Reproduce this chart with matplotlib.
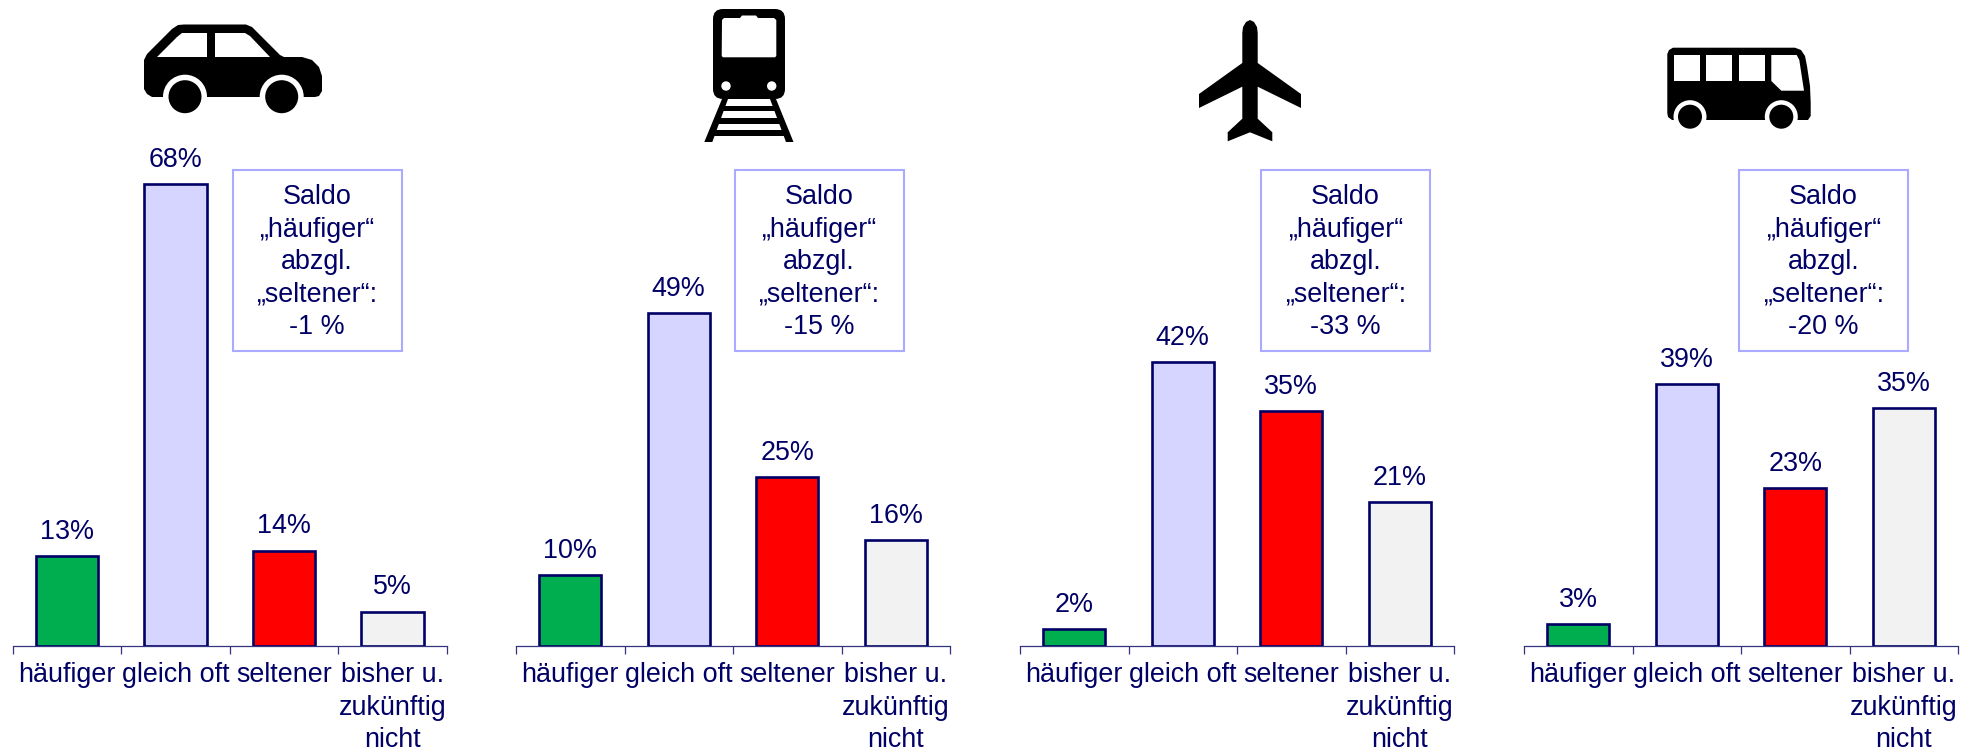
import matplotlib
matplotlib.use('Agg')
import matplotlib.pyplot as plt
from matplotlib.patches import Circle, FancyBboxPatch, Polygon, Rectangle

plt.rcParams['font.family'] = ['Liberation Sans', 'DejaVu Sans']

# ── DATA ──────────────────────────────────────────
# bar heights, the printed labels are these rounded
categories = ['häufiger', 'gleich oft', 'seltener', 'bisher u.\nzukünftig\nnicht']
car_values = [13.2, 68, 14, 5]
train_values = [10.4, 49, 24.8, 15.6]
plane_values = [2.4, 41.8, 34.6, 21.2]
bus_values = [3.2, 38.6, 23.2, 35]
saldo_values = [-1, -15, -33, -20]

panel_values = [car_values, train_values, plane_values, bus_values]
panel_left = [12.6, 516, 1020, 1524]
box_left = [232.5, 734.5, 1261, 1739]

NAVY = '#000066'
bar_colors = ['#00AD4F', '#D5D5FF', '#FF0000', '#F2F2F2']
FS = 19.4

W, H = 1975, 750
BASE_Y = 645.5
PX_PER_PCT = 6.78
AX_W = 434
Y_MAX = 70

fig = plt.figure(figsize=(W / 100, H / 100), dpi=100, facecolor='white')

# ── BAR PANELS ────────────────────────────────────
for left, values in zip(panel_left, panel_values):
    ax_h = Y_MAX * PX_PER_PCT
    ax = fig.add_axes([left / W, (H - BASE_Y) / H, AX_W / W, ax_h / H])
    ax.patch.set_alpha(0)
    bars = ax.bar([0.5, 1.5, 2.5, 3.5], values, width=0.576, color=bar_colors,
                  edgecolor=NAVY, linewidth=1.9)
    ax.bar_label(bars, labels=[f'{v:.0f}%' for v in values], padding=8,
                 fontsize=FS, color=NAVY)
    ax.set_xlim(0, 4)
    ax.set_ylim(0, Y_MAX)
    ax.set_yticks([])
    for side in ['left', 'right', 'top']:
        ax.spines[side].set_visible(False)
    ax.spines['bottom'].set_color('#333380')
    ax.spines['bottom'].set_linewidth(0.9)
    ax.set_xticks([0, 1, 2, 3, 4])
    ax.set_xticklabels([])
    ax.tick_params(axis='x', which='major', length=5.5, width=0.9, color='#333380')
    ax.set_xticks([0.5, 1.5, 2.5, 3.5], minor=True)
    ax.set_xticklabels(categories, minor=True, fontsize=FS, color=NAVY, linespacing=1.32)
    ax.tick_params(axis='x', which='minor', length=0, pad=12)

# ── OVERLAY IN PIXELS: SALDO BOXES AND ICONS ──────
ov = fig.add_axes([0, 0, 1, 1], zorder=5)
ov.set_xlim(0, W)
ov.set_ylim(H, 0)
ov.axis('off')

for left, saldo in zip(box_left, saldo_values):
    ov.add_patch(Rectangle((left, 170), 169, 181, facecolor='white',
                           edgecolor='#AAAAFF', linewidth=1.5))
    ov.text(left + 84.5, 262, f'Saldo\n„häufiger“\nabzgl.\n„seltener“:\n{saldo} %',
            ha='center', va='center', fontsize=FS, color=NAVY, linespacing=1.32)

BLACK = 'black'


def poly(pts, color=BLACK):
    ov.add_patch(Polygon(pts, closed=True, facecolor=color, edgecolor='none'))


def wheel(x, y, r_black, r_white):
    ov.add_patch(Circle((x, y), r_white, facecolor='white', edgecolor='none'))
    ov.add_patch(Circle((x, y), r_black, facecolor=BLACK, edgecolor='none'))


# car
poly([(144, 60), (147, 54), (172, 29), (178, 25), (184, 24.5), (246, 24.5), (252, 27),
      (280, 55), (284, 57), (302, 57), (312, 60), (319, 67), (322, 76), (322, 91),
      (319, 96), (315, 97), (152, 97), (147, 94), (144, 89)])
poly([(157, 57), (177, 37), (182, 33), (207, 33), (207, 57)], 'white')
poly([(215, 33), (245, 33), (250, 36), (270, 57), (215, 57)], 'white')
wheel(185, 96.7, 16.5, 22)
wheel(281.7, 96.7, 16.5, 22)

# train
ov.add_patch(FancyBboxPatch((722, 18), 54, 72, boxstyle='round,pad=9,rounding_size=10',
                            facecolor=BLACK, edgecolor='none'))
poly([(722, 20), (724, 18), (740, 18), (742, 15.5), (756, 15.5), (758, 18), (774, 18),
      (776.3, 20), (776.3, 56), (775, 57.3), (723, 57.3), (721.7, 56)], 'white')
ov.add_patch(Circle((726, 86), 4.7, facecolor='white', edgecolor='none'))
ov.add_patch(Circle((771.7, 86), 4.7, facecolor='white', edgecolor='none'))
poly([(722, 99), (728, 99), (712.3, 142), (704.3, 142)])
poly([(770, 99), (776, 99), (793.5, 142), (786, 142)])
poly([(722, 106), (776, 106), (778, 111), (720, 111)])
poly([(717, 118), (781, 118), (783, 124), (715, 124)])
poly([(713, 130), (785, 130), (787, 136), (711, 136)])

# plane
poly([(1250, 20), (1254, 22), (1257, 27), (1257.7, 33), (1257.7, 63), (1301, 94), (1301, 108),
      (1257.7, 86.7), (1257.7, 118.7), (1272.3, 132.3), (1272.3, 141.3), (1250, 132.3),
      (1227.7, 141.3), (1227.7, 132.3), (1242.3, 118.7), (1242.3, 86.7), (1199, 108), (1199, 94),
      (1242.3, 63), (1242.3, 33), (1243, 27), (1246, 22)])

# bus
poly([(1667.3, 54), (1669, 50), (1673, 47.7), (1795, 47.7), (1801, 50), (1805, 56), (1807, 66),
      (1810, 86), (1810.7, 103), (1810.7, 116), (1808, 120), (1672, 120), (1668, 117),
      (1667.3, 113)])
for x in [1674, 1706.3, 1739]:
    ov.add_patch(Rectangle((x, 55), 26, 26, facecolor='white', edgecolor='none'))
poly([(1771.3, 55), (1796.7, 55), (1799.3, 60), (1804, 90.7), (1781.3, 90.7), (1771.3, 81)], 'white')
wheel(1690, 116.7, 12, 16.5)
wheel(1781.3, 116.7, 12, 16.5)

plt.savefig('out.png', dpi=100)
plt.close()
